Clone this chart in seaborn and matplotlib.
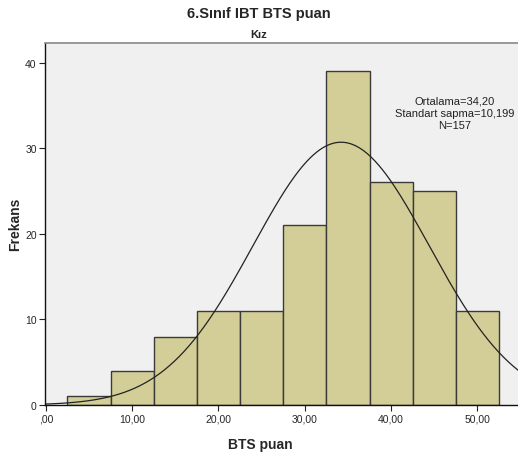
import numpy as np
import pandas as pd
import matplotlib
matplotlib.use("Agg")
import matplotlib.pyplot as plt
import seaborn as sns

# Data
bin_edges = [2.5, 7.5, 12.5, 17.5, 22.5, 27.5, 32.5, 37.5, 42.5, 47.5, 52.5]
bin_centers = [5, 10, 15, 20, 25, 30, 35, 40, 45, 50]
counts = [1, 4, 8, 11, 11, 21, 39, 26, 25, 11]
mean_val = 34.20
sd_val = 10.199
n_val = 157
x_ticks = [0, 10, 20, 30, 40, 50]
x_tick_labels = [",00", "10,00", "20,00", "30,00", "40,00", "50,00"]
y_ticks = [0, 10, 20, 30, 40]

sns.set_style("white")
plt.rcParams['font.family'] = ['Liberation Sans', 'DejaVu Sans']

fig = plt.figure(figsize=(5.18, 4.56), dpi=100)
ax = fig.add_axes([45/518, 50/456, 1 - 45/518, (406 - 44)/456])
ax.set_facecolor("#F0F0F0")

df = pd.DataFrame({"BTS puan": bin_centers, "count": counts})
sns.histplot(data=df, x="BTS puan", weights="count", bins=bin_edges,
             color="#D3CE97", edgecolor="#3A3A3A", linewidth=1.0, alpha=1.0, ax=ax)

xs = np.linspace(-1, 56, 400)
ys = n_val * 5 * np.exp(-0.5 * ((xs - mean_val) / sd_val) ** 2) / (sd_val * np.sqrt(2 * np.pi))
sns.lineplot(x=xs, y=ys, color="#222222", linewidth=0.9, ax=ax)

ax.set_xlim(-0.1, 54.7)
ax.set_ylim(0, 42.3)
ax.set_xticks(x_ticks)
ax.set_xticklabels(x_tick_labels, fontsize=7.5)
ax.set_yticks(y_ticks)
ax.set_yticklabels([str(v) for v in y_ticks], fontsize=7.5)
ax.tick_params(axis="both", direction="out", length=4, width=0.8, color="#222222", pad=2)
ax.tick_params(axis="x", bottom=True)
ax.tick_params(axis="y", left=True)

for side in ["left", "bottom"]:
    ax.spines[side].set_color("#111111")
    ax.spines[side].set_linewidth(1.0)
ax.spines["top"].set_color("#888888")
ax.spines["top"].set_linewidth(1.2)
ax.spines["right"].set_visible(False)

ax.set_xlabel("BTS puan", fontsize=10, fontweight="bold")
ax.set_ylabel("Frekans", fontsize=10, fontweight="bold")
ax.xaxis.set_label_coords((260 - 45) / 473, -(438 - 406) / 362)
ax.yaxis.set_label_coords(-(45 - 22) / 473, (406 - 224) / 362)

fig.text(0.5, 1 - 14/456, "6.Sınıf IBT BTS puan", ha="center", va="center",
         fontsize=10.5, fontweight="bold")
fig.text(0.5, 1 - 35/456, "Kız", ha="center", va="center", fontsize=8, fontweight="bold")

fig.text(455/518, 1 - 114/456,
         "Ortalama=34,20\nStandart sapma=10,199\nN=157",
         ha="center", va="center", fontsize=8, linespacing=1.25, color="#222222")

fig.savefig("out.png", dpi=100)
